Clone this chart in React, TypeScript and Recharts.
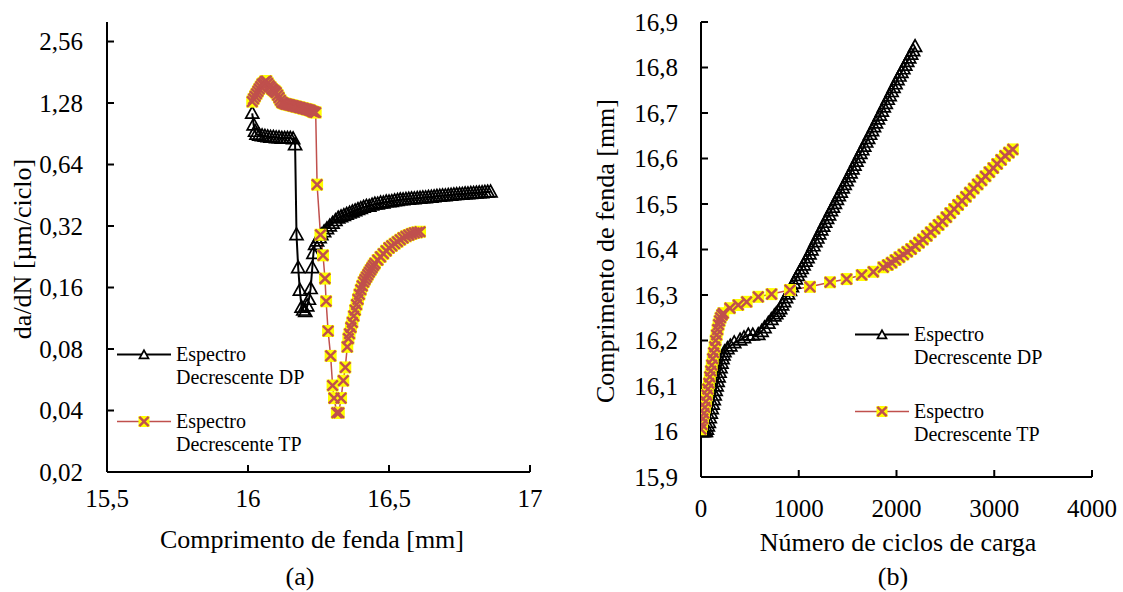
import React from "react";
import { LineChart, Line, XAxis, YAxis, Legend } from "recharts";

const FONT = '"Liberation Serif", "Times New Roman", serif';
const TP_RED = "#C0504D";
const TP_YELLOW = "#FFFF00";

// (a) da/dN vs crack length, [a (mm), da/dN (um/ciclo)]
const rateDP: [number, number][] = [
  [16.015, 1.14], [16.02, 1.0], [16.025, 0.93], [16.03, 0.9], [16.04, 0.89],
  [16.05, 0.885], [16.06, 0.88], [16.07, 0.875], [16.08, 0.87], [16.09, 0.87],
  [16.1, 0.865], [16.11, 0.865], [16.12, 0.86], [16.13, 0.86], [16.14, 0.86],
  [16.15, 0.86], [16.16, 0.855], [16.167, 0.8], [16.172, 0.29], [16.178, 0.2],
  [16.184, 0.155], [16.19, 0.128], [16.196, 0.124], [16.203, 0.122], [16.21, 0.13],
  [16.216, 0.14], [16.222, 0.158], [16.228, 0.2], [16.232, 0.235], [16.238, 0.26],
  [16.245, 0.27], [16.254, 0.28], [16.26, 0.29], [16.27, 0.3], [16.28, 0.31],
  [16.29, 0.32], [16.3, 0.33], [16.31, 0.34], [16.32, 0.35], [16.33, 0.355],
  [16.34, 0.36], [16.35, 0.365], [16.36, 0.37], [16.37, 0.375], [16.38, 0.38],
  [16.39, 0.385], [16.4, 0.39], [16.41, 0.395], [16.42, 0.4], [16.43, 0.4],
  [16.44, 0.405], [16.45, 0.41], [16.46, 0.41], [16.47, 0.415], [16.48, 0.415],
  [16.49, 0.42], [16.5, 0.42], [16.51, 0.422], [16.52, 0.425], [16.53, 0.427],
  [16.54, 0.43], [16.55, 0.43], [16.56, 0.432], [16.57, 0.433], [16.58, 0.435],
  [16.59, 0.435], [16.6, 0.437], [16.61, 0.438], [16.62, 0.44], [16.63, 0.44],
  [16.64, 0.442], [16.65, 0.443], [16.66, 0.445], [16.67, 0.447], [16.68, 0.448],
  [16.69, 0.45], [16.7, 0.45], [16.71, 0.452], [16.72, 0.453], [16.73, 0.455],
  [16.74, 0.456], [16.75, 0.457], [16.76, 0.458], [16.77, 0.46], [16.78, 0.46],
  [16.79, 0.462], [16.8, 0.463], [16.81, 0.464], [16.82, 0.465], [16.83, 0.466],
  [16.84, 0.468], [16.85, 0.469], [16.86, 0.47],
];

const rateTP: [number, number][] = [
  [16.015, 1.3], [16.02, 1.34], [16.025, 1.38], [16.03, 1.42], [16.035, 1.46],
  [16.04, 1.5], [16.045, 1.54], [16.05, 1.58], [16.055, 1.6], [16.06, 1.63],
  [16.065, 1.64], [16.07, 1.6], [16.075, 1.56], [16.08, 1.53], [16.085, 1.5],
  [16.09, 1.48], [16.095, 1.46], [16.1, 1.44], [16.105, 1.4], [16.11, 1.36],
  [16.115, 1.32], [16.12, 1.29], [16.125, 1.28], [16.13, 1.27], [16.135, 1.265],
  [16.14, 1.26], [16.145, 1.255], [16.15, 1.25], [16.155, 1.245], [16.16, 1.24],
  [16.165, 1.235], [16.17, 1.23], [16.175, 1.225], [16.18, 1.22], [16.185, 1.215],
  [16.19, 1.21], [16.195, 1.205], [16.2, 1.2], [16.205, 1.195], [16.21, 1.19],
  [16.215, 1.185], [16.22, 1.18], [16.225, 1.17], [16.23, 1.16], [16.235, 1.155],
  [16.24, 1.15], [16.245, 0.51],
  [16.257, 0.29], [16.266, 0.23], [16.273, 0.177], [16.277, 0.137], [16.284, 0.098],
  [16.293, 0.074], [16.3, 0.053], [16.305, 0.046], [16.315, 0.039], [16.322, 0.039],
  [16.33, 0.046], [16.338, 0.056], [16.345, 0.065], [16.352, 0.082], [16.356, 0.09],
  [16.36, 0.095], [16.365, 0.102], [16.37, 0.108], [16.375, 0.116], [16.38, 0.124],
  [16.385, 0.132], [16.39, 0.14], [16.395, 0.148], [16.4, 0.156], [16.405, 0.163],
  [16.41, 0.17], [16.415, 0.175], [16.42, 0.18], [16.425, 0.185], [16.43, 0.19],
  [16.435, 0.195], [16.44, 0.2], [16.445, 0.205], [16.45, 0.21],
  [16.46, 0.218], [16.47, 0.226], [16.48, 0.234], [16.49, 0.242], [16.5, 0.25],
  [16.51, 0.256], [16.52, 0.262], [16.53, 0.268], [16.54, 0.274], [16.55, 0.28],
  [16.56, 0.285], [16.57, 0.289], [16.58, 0.293], [16.59, 0.296], [16.6, 0.298],
  [16.61, 0.3],
];

// (b) crack length vs number of cycles, [N, a (mm)]
const lengthDP: [number, number][] = [
  [0, 16.0], [10, 16.0], [20, 16.0], [30, 16.0], [40, 16.0], [50, 16.0],
  [60, 16.005], [70, 16.012], [80, 16.02], [90, 16.03], [100, 16.04], [110, 16.05],
  [120, 16.06], [130, 16.07], [140, 16.08], [150, 16.09], [160, 16.1], [170, 16.11],
  [180, 16.12], [190, 16.13], [200, 16.14], [210, 16.15], [220, 16.16], [230, 16.168],
  [240, 16.175], [270, 16.182], [300, 16.188], [340, 16.195], [400, 16.201], [440, 16.206],
  [484, 16.212], [530, 16.212], [586, 16.213], [620, 16.22], [650, 16.228], [689, 16.238],
  [720, 16.246], [750, 16.254], [770, 16.259], [790, 16.264], [810, 16.27], [830, 16.278],
  [850, 16.285], [870, 16.294], [890, 16.302], [910, 16.31], [930, 16.318], [950, 16.326],
  [970, 16.335], [990, 16.343], [1010, 16.351], [1030, 16.358], [1050, 16.366], [1070, 16.374],
  [1090, 16.382], [1110, 16.39], [1130, 16.399], [1150, 16.408], [1170, 16.417], [1190, 16.425],
  [1210, 16.434], [1230, 16.443], [1250, 16.451], [1270, 16.46], [1290, 16.468], [1310, 16.476],
  [1330, 16.485], [1350, 16.493], [1370, 16.501], [1390, 16.51], [1410, 16.518], [1430, 16.526],
  [1450, 16.535], [1470, 16.543], [1490, 16.551], [1510, 16.56], [1530, 16.568], [1550, 16.577],
  [1570, 16.585], [1590, 16.594], [1610, 16.602], [1630, 16.611], [1650, 16.619], [1670, 16.627],
  [1690, 16.636], [1710, 16.644], [1730, 16.653], [1750, 16.661], [1770, 16.67], [1790, 16.678],
  [1810, 16.687], [1830, 16.695], [1850, 16.704], [1870, 16.713], [1890, 16.721], [1910, 16.73],
  [1930, 16.738], [1950, 16.747], [1970, 16.756], [1990, 16.764], [2010, 16.773], [2030, 16.781],
  [2050, 16.789], [2070, 16.797], [2090, 16.805], [2110, 16.813], [2130, 16.821], [2150, 16.829],
  [2170, 16.837], [2190, 16.846],
];

const lengthTP: [number, number][] = [
  [0, 16.005], [10, 16.015], [20, 16.028], [30, 16.04], [40, 16.053], [50, 16.066],
  [60, 16.08], [70, 16.093], [80, 16.106], [90, 16.12], [100, 16.133], [110, 16.146],
  [120, 16.16], [130, 16.173], [140, 16.186], [150, 16.2], [160, 16.212], [170, 16.224],
  [180, 16.235], [190, 16.243], [200, 16.25], [214, 16.256], [228, 16.26], [296, 16.271],
  [381, 16.278], [467, 16.285], [586, 16.296], [722, 16.302], [910, 16.311], [1115, 16.318],
  [1320, 16.328], [1490, 16.335], [1644, 16.344], [1763, 16.351], [1865, 16.361], [1910, 16.366],
  [1950, 16.371], [1990, 16.377], [2030, 16.383], [2070, 16.389], [2110, 16.395], [2150, 16.401],
  [2190, 16.408], [2230, 16.415], [2270, 16.422], [2310, 16.43], [2350, 16.438], [2390, 16.446],
  [2430, 16.454], [2470, 16.462], [2510, 16.471], [2550, 16.48], [2590, 16.489], [2630, 16.498],
  [2670, 16.507], [2710, 16.516], [2750, 16.525], [2790, 16.534], [2830, 16.543], [2870, 16.552],
  [2910, 16.561], [2950, 16.57], [2990, 16.579], [3030, 16.588], [3070, 16.597], [3110, 16.606],
  [3150, 16.613], [3190, 16.62],
];

const rateTicks = [0.02, 0.04, 0.08, 0.16, 0.32, 0.64, 1.28, 2.56];
const crackTicksA = [15.5, 16, 16.5, 17];
const crackTicksB = [15.9, 16, 16.1, 16.2, 16.3, 16.4, 16.5, 16.6, 16.7, 16.8, 16.9];
const cycleTicks = [0, 1000, 2000, 3000, 4000];

const seriesNames = ["Espectro|Decrescente DP", "Espectro|Decrescente TP"];

const toPoints = (pairs: [number, number][]) => pairs.map(([x, y]) => ({ x, y }));
const fmt = (v: number) => String(v).replace(".", ",");

const tickStyle = { fill: "#000", fontSize: 25, fontFamily: FONT };
const axisLine = { stroke: "#000", strokeWidth: 2 };
const tickLine = { stroke: "#000", strokeWidth: 2 };

type DotProps = { cx?: number; cy?: number; size?: number };

const TriangleDot = ({ cx, cy, size = 13, fill = "none" }: DotProps & { fill?: string }) => {
  if (cx == null || cy == null) return null;
  const s = size / 2;
  return (
    <polygon
      points={`${cx},${cy - s * 1.05} ${cx - s},${cy + s * 0.75} ${cx + s},${cy + s * 0.75}`}
      fill={fill}
      stroke="#000"
      strokeWidth={1.7}
    />
  );
};

// yellow marker background, drawn in a first pass
const SquareDot = ({ cx, cy, size = 12 }: DotProps) => {
  if (cx == null || cy == null) return null;
  return <rect x={cx - size / 2} y={cy - size / 2} width={size} height={size} fill={TP_YELLOW} />;
};

// red cross on top, drawn in a second pass
const XDot = ({ cx, cy, size = 12 }: DotProps) => {
  if (cx == null || cy == null) return null;
  const k = size / 2 - 0.8;
  return (
    <path
      d={`M${cx - k},${cy - k}L${cx + k},${cy + k}M${cx + k},${cy - k}L${cx - k},${cy + k}`}
      stroke={TP_RED}
      strokeWidth={2.5}
      fill="none"
    />
  );
};

const LegendBox = ({ gap }: { gap: number }) => (
  <div style={{ fontFamily: FONT, fontSize: 20, lineHeight: "23px", color: "#000" }}>
    {seriesNames.map((name, i) => (
      <div key={name} style={{ display: "flex", alignItems: "flex-start", marginTop: i ? gap : 0 }}>
        <svg width={54} height={23} style={{ flex: "none" }}>
          <line
            x1={0}
            x2={54}
            y1={11.5}
            y2={11.5}
            stroke={i === 0 ? "#000" : TP_RED}
            strokeWidth={i === 0 ? 2 : 1.5}
          />
          {i === 0 ? (
            <TriangleDot cx={27} cy={12} size={9} fill="#fff" />
          ) : (
            <g>
              <SquareDot cx={27} cy={11.5} size={11} />
              <XDot cx={27} cy={11.5} size={11} />
            </g>
          )}
        </svg>
        <div style={{ marginLeft: 5, whiteSpace: "nowrap" }}>
          {name.split("|").map((l) => (
            <div key={l}>{l}</div>
          ))}
        </div>
      </div>
    ))}
  </div>
);

const textBase: React.CSSProperties = {
  position: "absolute",
  fontFamily: FONT,
  fontSize: 26,
  color: "#000",
  whiteSpace: "nowrap",
  transform: "translate(-50%, -50%)",
};

const App = () => {
  const aDP = toPoints(rateDP);
  const aTP = toPoints(rateTP);
  const bDP = toPoints(lengthDP);
  const bTP = toPoints(lengthTP);
  return (
    <div style={{ position: "absolute", left: 0, top: 0, width: 1123, height: 592, background: "#fff" }}>
      <div style={{ position: "absolute", left: 0, top: 0 }}>
        <LineChart width={560} height={592} margin={{ top: 22, right: 30, left: 0, bottom: 0 }}>
          <XAxis
            dataKey="x"
            type="number"
            domain={[15.5, 17]}
            ticks={crackTicksA}
            tickFormatter={fmt}
            height={120}
            tick={tickStyle}
            axisLine={axisLine}
            tickLine={tickLine}
            tickSize={-7}
            tickMargin={24}
            allowDataOverflow
          />
          <XAxis xAxisId="top" orientation="top" type="number" domain={[15.5, 17]} height={0} tick={false} tickLine={false} axisLine={axisLine} />
          <YAxis
            type="number"
            scale="log"
            domain={[0.02, 3.19]}
            ticks={rateTicks}
            tickFormatter={fmt}
            width={107}
            tick={tickStyle}
            axisLine={axisLine}
            tickLine={tickLine}
            tickSize={-7}
            tickMargin={31}
            allowDataOverflow
          />
          <YAxis yAxisId="right" orientation="right" type="number" width={0} tick={false} tickLine={false} axisLine={axisLine} />
          <Line
            data={aDP}
            dataKey="y"
            stroke="#000"
            strokeWidth={2}
            dot={(p: any) => <TriangleDot key={p.index} cx={p.cx} cy={p.cy} />}
            isAnimationActive={false}
          />
          <Line
            data={aTP}
            dataKey="y"
            stroke={TP_RED}
            strokeWidth={1.5}
            dot={(p: any) => <SquareDot key={p.index} cx={p.cx} cy={p.cy} />}
            isAnimationActive={false}
          />
          <Line
            data={aTP}
            dataKey="y"
            stroke="none"
            dot={(p: any) => <XDot key={p.index} cx={p.cx} cy={p.cy} />}
            isAnimationActive={false}
          />
          <Legend
            layout="vertical"
            align="center"
            verticalAlign="middle"
            wrapperStyle={{ left: 117, top: 342.5, width: "auto" }}
            content={() => <LegendBox gap={21} />}
          />
        </LineChart>
      </div>

      <div style={{ position: "absolute", left: 560, top: 0 }}>
        <LineChart width={563} height={592} margin={{ top: 22, right: 31, left: 0, bottom: 0 }}>
          <XAxis
            dataKey="x"
            type="number"
            domain={[0, 4000]}
            ticks={cycleTicks}
            height={115}
            tick={tickStyle}
            axisLine={axisLine}
            tickLine={tickLine}
            tickSize={-7}
            tickMargin={29}
            allowDataOverflow
          />
          <XAxis xAxisId="top" orientation="top" type="number" domain={[0, 4000]} height={0} tick={false} tickLine={false} axisLine={axisLine} />
          <YAxis
            type="number"
            domain={[15.9, 16.9]}
            ticks={crackTicksB}
            tickFormatter={fmt}
            width={141}
            tick={tickStyle}
            axisLine={axisLine}
            tickLine={tickLine}
            tickSize={-7}
            tickMargin={30}
            allowDataOverflow
          />
          <YAxis yAxisId="right" orientation="right" type="number" width={0} tick={false} tickLine={false} axisLine={axisLine} />
          <Line
            data={bDP}
            dataKey="y"
            stroke="#000"
            strokeWidth={2}
            dot={(p: any) => <TriangleDot key={p.index} cx={p.cx} cy={p.cy} />}
            isAnimationActive={false}
          />
          <Line
            data={bTP}
            dataKey="y"
            stroke={TP_RED}
            strokeWidth={1.5}
            dot={(p: any) => <SquareDot key={p.index} cx={p.cx} cy={p.cy} />}
            isAnimationActive={false}
          />
          <Line
            data={bTP}
            dataKey="y"
            stroke="none"
            dot={(p: any) => <XDot key={p.index} cx={p.cx} cy={p.cy} />}
            isAnimationActive={false}
          />
          <Legend
            layout="vertical"
            align="center"
            verticalAlign="middle"
            wrapperStyle={{ left: 295, top: 322.5, width: "auto" }}
            content={() => <LegendBox gap={31} />}
          />
        </LineChart>
      </div>

      <div style={{ ...textBase, left: 23, top: 249, transform: "translate(-50%, -50%) rotate(-90deg)" }}>
        da/dN [µm/ciclo]
      </div>
      <div style={{ ...textBase, left: 312, top: 540 }}>Comprimento de fenda [mm]</div>
      <div style={{ ...textBase, left: 300, top: 577 }}>(a)</div>

      <div style={{ ...textBase, left: 606, top: 251, transform: "translate(-50%, -50%) rotate(-90deg)" }}>
        Comprimento de fenda [mm]
      </div>
      <div style={{ ...textBase, left: 898, top: 543 }}>Número de ciclos de carga</div>
      <div style={{ ...textBase, left: 893, top: 577 }}>(b)</div>
    </div>
  );
};

export default App;
